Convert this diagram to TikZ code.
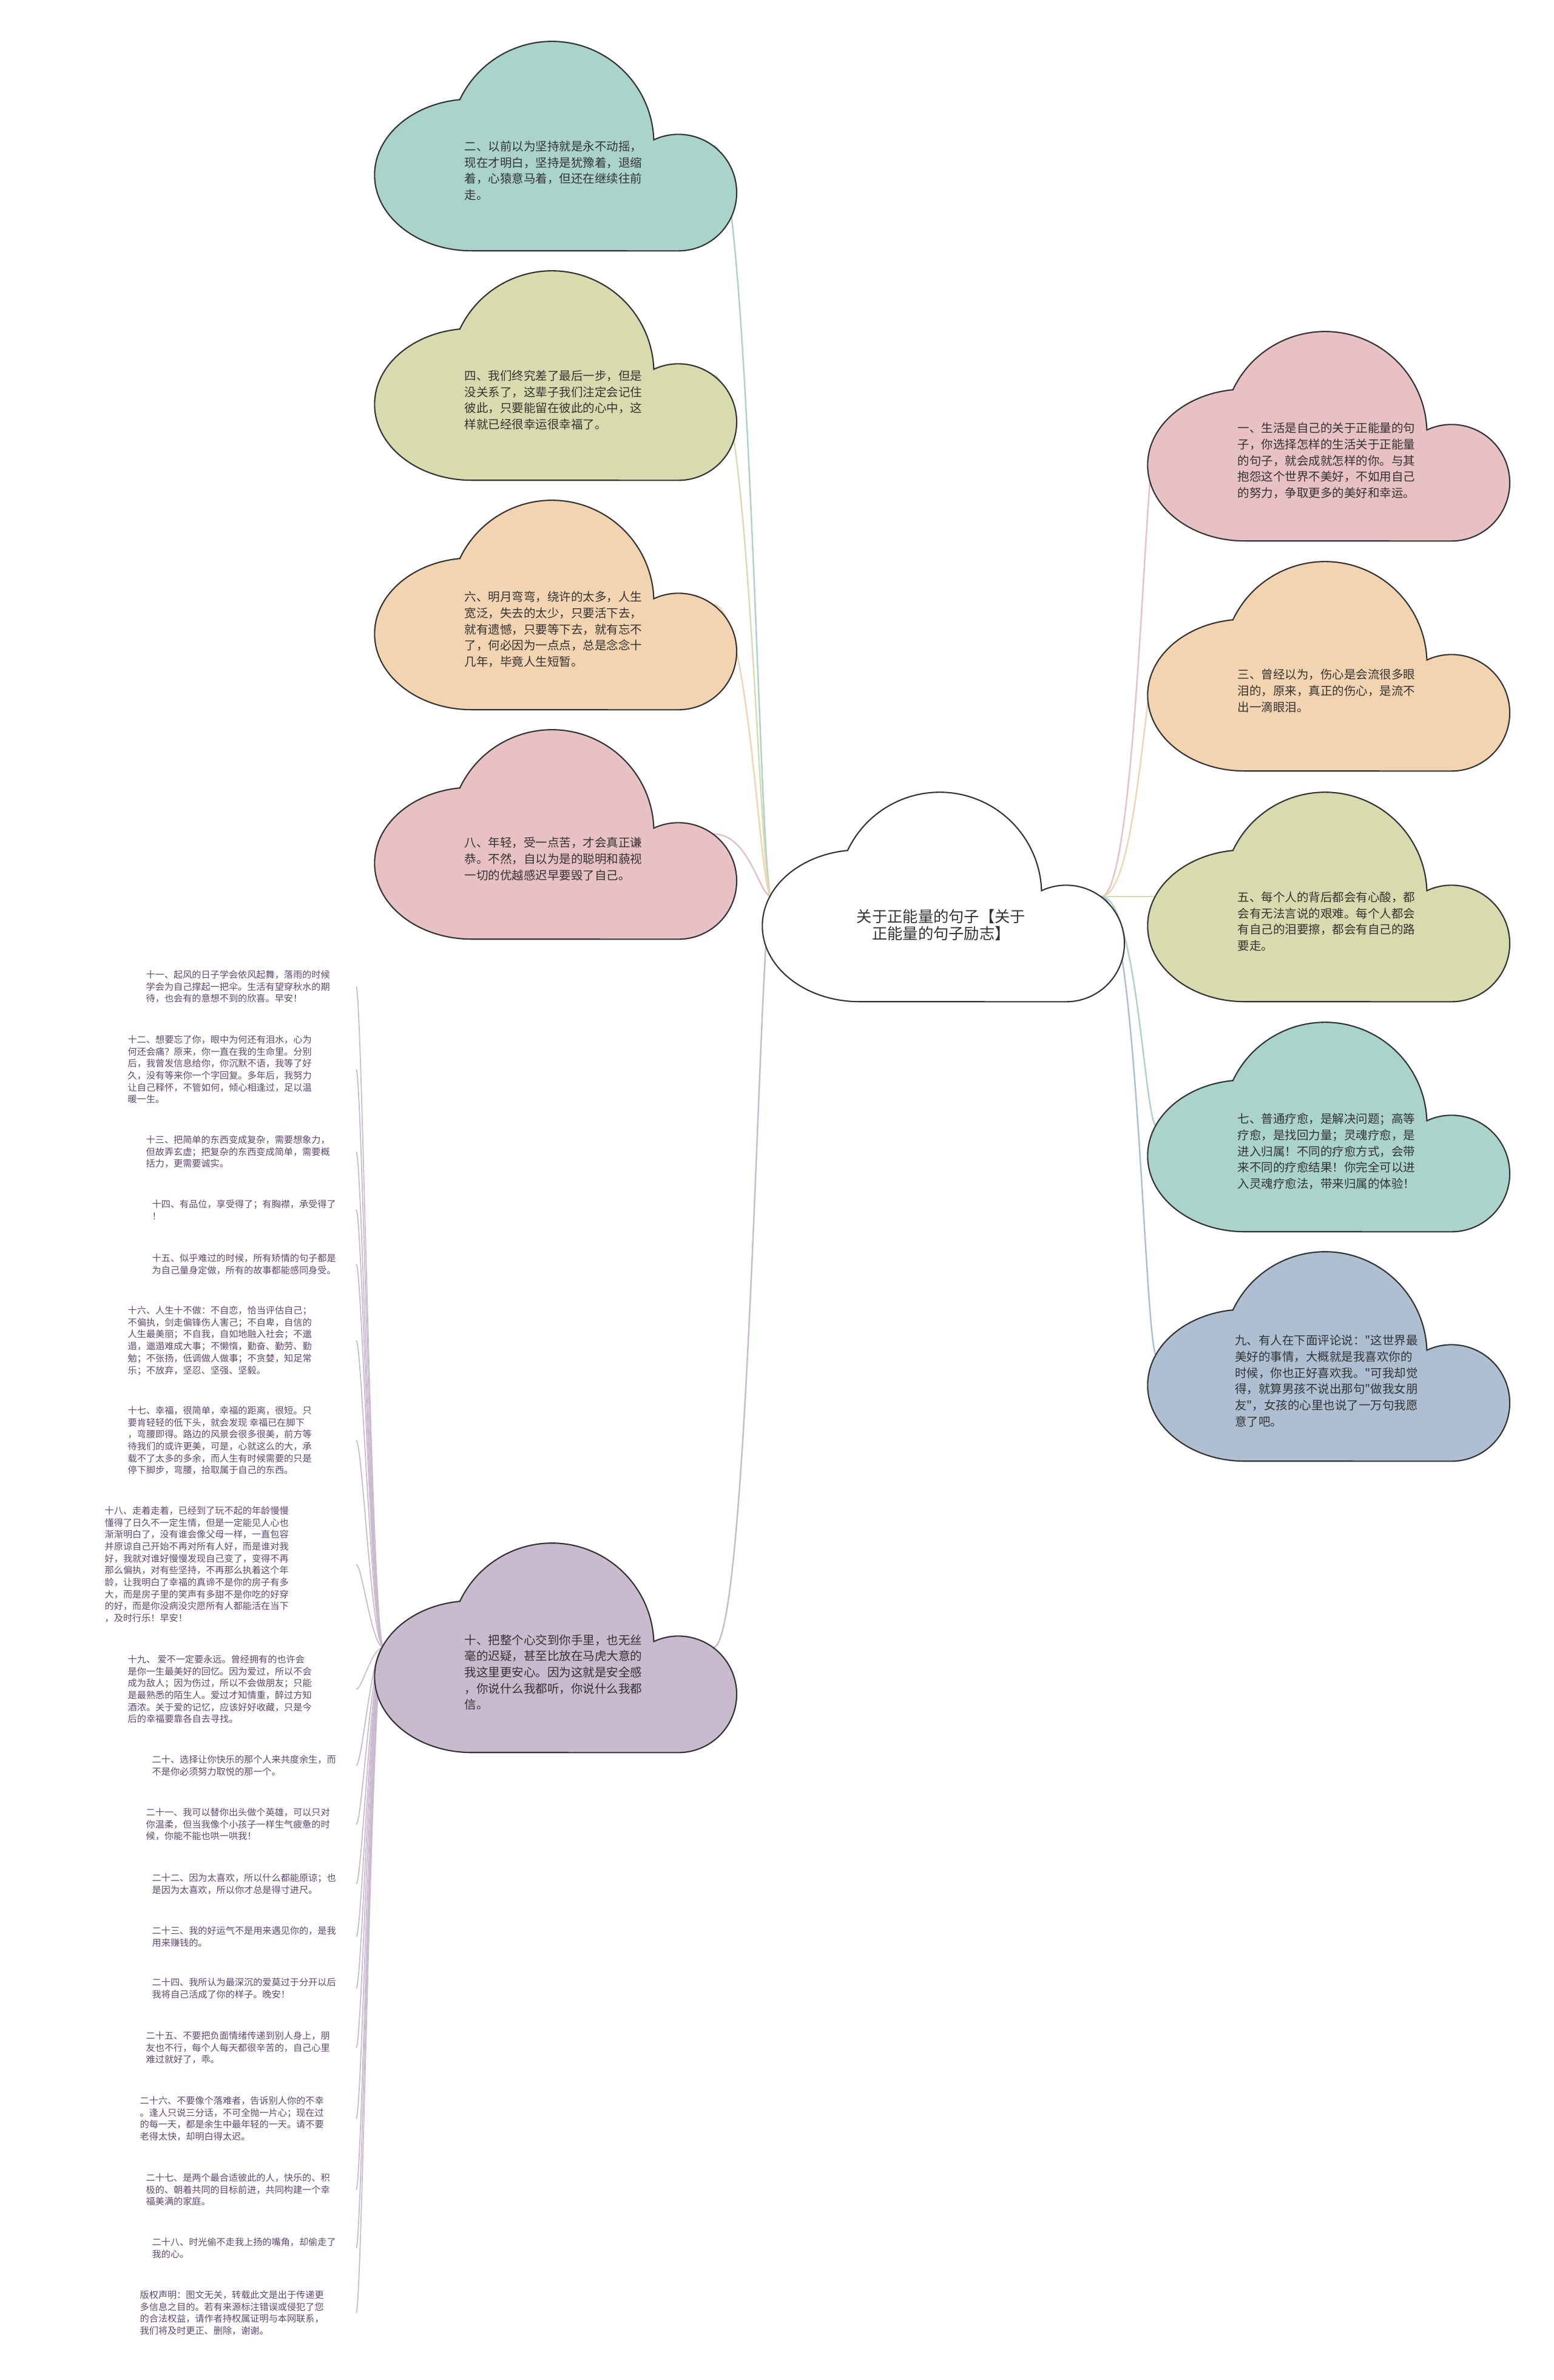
\documentclass[tikz,border=0pt]{standalone}
\usepackage{fontspec}
\newfontfamily\cjkfont{Noto Sans CJK SC}[Ligatures=TeXOff]
\usetikzlibrary{positioning, calc}

\definecolor{inkgrey}{RGB}{51, 51, 51}
\definecolor{leafink}{RGB}{96, 70, 112}
\definecolor{tealfill}{RGB}{169, 211, 203}
\definecolor{olivefill}{RGB}{216, 219, 173}
\definecolor{peachfill}{RGB}{242, 212, 177}
\definecolor{pinkfill}{RGB}{231, 193, 195}
\definecolor{mauvefill}{RGB}{201, 186, 206}
\definecolor{bluefill}{RGB}{174, 191, 210}

\tikzset{
  cloudbox/.style={minimum width=6.08cm, minimum height=3.45cm, inner sep=0pt},
  cloudtext/.style={font=\cjkfont\fontsize{5.55pt}{7.6pt}\selectfont, text=inkgrey, align=left, inner sep=0pt},
  leaftext/.style={font=\cjkfont\fontsize{4.31pt}{5.6pt}\selectfont, text=leafink, align=left, inner sep=0pt, anchor=north west},
  branch/.style={line width=0.7pt},
  twig/.style={line width=0.5pt, draw=mauvefill},
  cloudpic/.pic={
    \path[pic actions] (1.50,2.48) arc[start angle=155, end angle=2, radius=1.68]
      arc[start angle=115, end angle=-90, radius=0.96] -- (1.70,0)
      arc[start angle=270, end angle=97, x radius=1.6, y radius=1.25] -- cycle;
  }
}

\begin{document}
\begin{tikzpicture}
  \useasboundingbox (0,0) rectangle (25.6,-39.21);
  \fill[white] (0,0) rectangle (25.6,-39.21);

  \node[cloudbox] (k0) at (15.51,-14.77) {};
  \node[cloudbox] (k2) at (9.12,-2.40) {};
  \node[cloudbox] (k4) at (9.12,-6.18) {};
  \node[cloudbox] (k6) at (9.12,-9.96) {};
  \node[cloudbox] (k8) at (9.12,-13.74) {};
  \node[cloudbox] (k10) at (9.12,-27.14) {};
  \node[cloudbox] (k1) at (21.86,-7.18) {};
  \node[cloudbox] (k3) at (21.86,-10.97) {};
  \node[cloudbox] (k5) at (21.86,-14.77) {};
  \node[cloudbox] (k7) at (21.86,-18.56) {};
  \node[cloudbox] (k9) at (21.86,-22.34) {};
  \coordinate (tipx) at (5.87,0);

  \node[leaftext] (n11) at (2.40,-15.98) {十一、起风的日子学会依风起舞，落雨的时候\\学会为自己撑起一把伞。生活有望穿秋水的期\\待，也会有的意想不到的欣喜。早安！};
  \node[leaftext] (n12) at (2.10,-17.05) {十二、想要忘了你，眼中为何还有泪水，心为\\何还会痛？原来，你一直在我的生命里。分别\\后，我曾发信息给你，你沉默不语，我等了好\\久，没有等来你一个字回复。多年后，我努力\\让自己释怀，不管如何，倾心相逢过，足以温\\暖一生。};
  \node[leaftext] (n13) at (2.40,-18.70) {十三、把简单的东西变成复杂，需要想象力，\\但故弄玄虚；把复杂的东西变成简单，需要概\\括力，更需要诚实。};
  \node[leaftext] (n14) at (2.50,-19.76) {十四、有品位，享受得了；有胸襟，承受得了\\！};
  \node[leaftext] (n15) at (2.50,-20.65) {十五、似乎难过的时候，所有矫情的句子都是\\为自己量身定做，所有的故事都能感同身受。};
  \node[leaftext] (n16) at (2.10,-21.51) {十六、人生十不做：不自恋，恰当评估自己；\\不偏执，剑走偏锋伤人害己；不自卑，自信的\\人生最美丽；不自我，自如地融入社会；不邋\\遢，邋遢难成大事；不懒惰，勤奋、勤劳、勤\\勉；不张扬，低调做人做事；不贪婪，知足常\\乐；不放弃，坚忍、坚强、坚毅。};
  \node[leaftext] (n17) at (2.10,-23.16) {十七、幸福，很简单，幸福的距离，很短。只\\要肯轻轻的低下头，就会发现 幸福已在脚下\\，弯腰即得。路边的风景会很多很美，前方等\\待我们的或许更美，可是，心就这么的大，承\\载不了太多的多余，而人生有时候需要的只是\\停下脚步，弯腰，拾取属于自己的东西。};
  \node[leaftext] (n18) at (1.72,-24.81) {十八、走着走着，已经到了玩不起的年龄慢慢\\懂得了日久不一定生情，但是一定能见人心也\\渐渐明白了，没有谁会像父母一样，一直包容\\并原谅自己开始不再对所有人好，而是谁对我\\好，我就对谁好慢慢发现自己变了，变得不再\\那么偏执，对有些坚持，不再那么执着这个年\\龄，让我明白了幸福的真谛不是你的房子有多\\大，而是房子里的笑声有多甜不是你吃的好穿\\的好，而是你没病没灾愿所有人都能活在当下\\，及时行乐！早安！};
  \node[leaftext] (n19) at (2.10,-27.26) {十九、 爱不一定要永远。曾经拥有的也许会\\是你一生最美好的回忆。因为爱过，所以不会\\成为敌人；因为伤过，所以不会做朋友；只能\\是最熟悉的陌生人。爱过才知情重，醉过方知\\酒浓。关于爱的记忆，应该好好收藏，只是今\\后的幸福要靠各自去寻找。};
  \node[leaftext] (n20) at (2.50,-28.91) {二十、选择让你快乐的那个人来共度余生，而\\不是你必须努力取悦的那一个。};
  \node[leaftext] (n21) at (2.40,-29.78) {二十一、我可以替你出头做个英雄，可以只对\\你温柔，但当我像个小孩子一样生气疲惫的时\\候，你能不能也哄一哄我！};
  \node[leaftext] (n22) at (2.50,-30.86) {二十二、因为太喜欢，所以什么都能原谅；也\\是因为太喜欢，所以你才总是得寸进尺。};
  \node[leaftext] (n23) at (2.50,-31.73) {二十三、我的好运气不是用来遇见你的，是我\\用来赚钱的。};
  \node[leaftext] (n24) at (2.50,-32.58) {二十四、我所认为最深沉的爱莫过于分开以后\\我将自己活成了你的样子。晚安！};
  \node[leaftext] (n25) at (2.40,-33.46) {二十五、不要把负面情绪传递到别人身上，朋\\友也不行，每个人每天都很辛苦的，自己心里\\难过就好了，乖。};
  \node[leaftext] (n26) at (2.30,-34.53) {二十六、不要像个落难者，告诉别人你的不幸\\。逢人只说三分话，不可全抛一片心；现在过\\的每一天，都是余生中最年轻的一天。请不要\\老得太快，却明白得太迟。};
  \node[leaftext] (n27) at (2.40,-35.80) {二十七、是两个最合适彼此的人，快乐的、积\\极的、朝着共同的目标前进，共同构建一个幸\\福美满的家庭。};
  \node[leaftext] (n28) at (2.50,-36.86) {二十八、时光偷不走我上扬的嘴角，却偷走了\\我的心。};
  \node[leaftext] (note) at (2.30,-37.73) {版权声明：图文无关，转载此文是出于传递更\\多信息之目的。若有来源标注错误或侵犯了您\\的合法权益，请作者持权属证明与本网联系，\\我们将及时更正、删除，谢谢。};

  \foreach \k/\c in {k2/tealfill, k4/olivefill, k6/peachfill, k8/pinkfill, k10/mauvefill}
    \draw[branch, draw=\c] ([xshift=2.5mm]k0.west) to[out=180, in=0, out distance=2mm, in distance=6mm] ([xshift=-4.1mm]\k.east);
  \foreach \k/\c in {k1/pinkfill, k3/peachfill, k5/olivefill, k7/tealfill, k9/bluefill}
    \draw[branch, draw=\c] ([xshift=-4.1mm]k0.east) to[out=0, in=180, out distance=6mm, in distance=2mm] ([xshift=2.5mm]\k.west);
  \foreach \n in {n11, n12, n13, n14, n15, n16, n17, n18, n19, n20, n21, n22, n23, n24, n25, n26, n27, n28, note}
    \draw[twig] ([xshift=2.5mm]k10.west) to[out=180, in=0, out distance=2mm, in distance=1mm] (\n -| tipx);

  \foreach \k/\c in {k0/white, k2/tealfill, k4/olivefill, k6/peachfill, k8/pinkfill, k10/mauvefill, k1/pinkfill, k3/peachfill, k5/olivefill, k7/tealfill, k9/bluefill}
    \pic[draw=inkgrey, line width=0.6pt, fill=\c] at (\k.south west) {cloudpic};

  \node[cloudtext, font=\cjkfont\fontsize{7.2pt}{8.1pt}\selectfont, align=center] (n0) at ([yshift=-4.7mm]k0.center) {关于正能量的句子【关于\\正能量的句子励志】};
  \node[cloudtext] (n2) at ([yshift=-4.1mm]k2.center) {二、以前以为坚持就是永不动摇，\\现在才明白，坚持是犹豫着，退缩\\着，心猿意马着，但还在继续往前\\走。};
  \node[cloudtext] (n4) at ([yshift=-4.1mm]k4.center) {四、我们终究差了最后一步，但是\\没关系了，这辈子我们注定会记住\\彼此，只要能留在彼此的心中，这\\样就已经很幸运很幸福了。};
  \node[cloudtext] (n6) at ([yshift=-4.1mm]k6.center) {六、明月弯弯，绕许的太多，人生\\宽泛，失去的太少，只要活下去，\\就有遗憾，只要等下去，就有忘不\\了，何必因为一点点，总是念念十\\几年，毕竟人生短暂。};
  \node[cloudtext] (n8) at ([yshift=-4.1mm]k8.center) {八、年轻，受一点苦，才会真正谦\\恭。不然，自以为是的聪明和藐视\\一切的优越感迟早要毁了自己。};
  \node[cloudtext] (n10) at ([yshift=-4.1mm]k10.center) {十、把整个心交到你手里，也无丝\\毫的迟疑，甚至比放在马虎大意的\\我这里更安心。因为这就是安全感\\，你说什么我都听，你说什么我都\\信。};
  \node[cloudtext] (n1) at ([yshift=-4.1mm]k1.center) {一、生活是自己的关于正能量的句\\子，你选择怎样的生活关于正能量\\的句子，就会成就怎样的你。与其\\抱怨这个世界不美好，不如用自己\\的努力，争取更多的美好和幸运。};
  \node[cloudtext] (n3) at ([yshift=-4.1mm]k3.center) {三、曾经以为，伤心是会流很多眼\\泪的，原来，真正的伤心，是流不\\出一滴眼泪。};
  \node[cloudtext] (n5) at ([yshift=-4.1mm]k5.center) {五、每个人的背后都会有心酸，都\\会有无法言说的艰难。每个人都会\\有自己的泪要擦，都会有自己的路\\要走。};
  \node[cloudtext] (n7) at ([yshift=-4.1mm]k7.center) {七、普通疗愈，是解决问题；高等\\疗愈，是找回力量；灵魂疗愈，是\\进入归属！不同的疗愈方式，会带\\来不同的疗愈结果！你完全可以进\\入灵魂疗愈法，带来归属的体验！};
  \node[cloudtext] (n9) at ([yshift=-4.1mm]k9.center) {九、有人在下面评论说："这世界最\\美好的事情，大概就是我喜欢你的\\时候，你也正好喜欢我。"可我却觉\\得，就算男孩不说出那句"做我女朋\\友"，女孩的心里也说了一万句我愿\\意了吧。};
\end{tikzpicture}
\end{document}
